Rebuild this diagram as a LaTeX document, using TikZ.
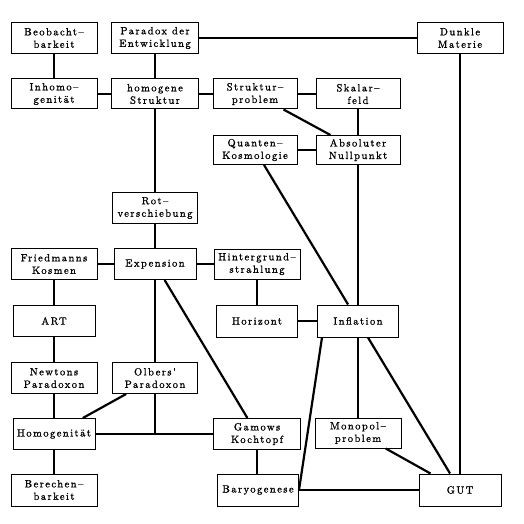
\documentclass[tikz,border=0pt]{standalone}
\usepackage{fontspec}
\newfontfamily\boxfont{Latin Modern Roman}[LetterSpace=14, FakeBold=1.2]
\begin{document}
\begin{tikzpicture}[x=1pt,y=-1pt,
  box/.style={draw, line width=1pt, inner sep=0pt, align=center,
    font=\boxfont\fontsize{10.5}{12.5}\selectfont},
  link/.style={line width=2.2pt}]
\useasboundingbox (0,0) rectangle (524,524);
\newcommand\bx[6]{\node[box, minimum width=#4, minimum height=#5] (#1) at (#2,#3) {#6};}
\bx{beo}{54}{38}{86}{31}{Beobacht–\\barkeit}
\bx{par}{155}{38}{87}{31}{Paradox der\\Entwicklung}
\bx{dun}{460}{38}{86}{31}{Dunkle\\Materie}
\bx{inh}{54}{94}{86}{30}{Inhomo–\\genität}
\bx{hom}{155}{94}{87}{30}{homogene\\Struktur}
\bx{str}{255}{94}{84}{30}{Struktur–\\problem}
\bx{ska}{358}{94}{84}{30}{Skalar–\\feld}
\bx{qua}{255}{150}{84}{29}{Quanten–\\Kosmologie}
\bx{abs}{358}{150}{84}{29}{Absoluter\\Nullpunkt}
\bx{rot}{155}{208}{85}{31}{Rot–\\verschiebung}
\bx{fri}{54}{264}{86}{31}{Friedmanns\\Kosmen}
\bx{exp}{155}{264}{82}{31}{Expension}
\bx{hin}{257}{264}{86}{30}{Hintergrund–\\strahlung}
\bx{art}{54}{321}{82}{31}{ART}
\bx{hor}{257}{321}{81}{32}{Horizont}
\bx{inf}{358}{321}{81}{32}{Inflation}
\bx{new}{54}{378}{86}{31}{Newtons\\Paradoxon}
\bx{olb}{155}{378}{85}{31}{Olbers'\\Paradoxon}
\bx{homg}{54}{434}{82}{31}{Homogenität}
\bx{gam}{257}{434}{87}{31}{Gamows\\Kochtopf}
\bx{mon}{358}{433}{86}{30}{Monopol–\\problem}
\bx{ber}{54}{490}{86}{32}{Berechen–\\barkeit}
\bx{bar}{258}{490}{81}{32}{Baryogenese}
\bx{gut}{460}{490}{82}{32}{GUT}

\draw[link] (beo) -- (inh);
\draw[link] (par) -- (hom);
\draw[link] (par) -- (dun);
\draw[link] (inh) -- (hom);
\draw[link] (hom) -- (str);
\draw[link] (str) -- (ska);
\draw[link] (str) -- (abs);
\draw[link] (ska) -- (abs);
\draw[link] (qua) -- (abs);
\draw[link] (qua) -- (inf);
\draw[link] (abs) -- (inf);
\draw[link] (hom) -- (rot);
\draw[link] (rot) -- (exp);
\draw[link] (fri) -- (exp);
\draw[link] (exp) -- (hin);
\draw[link] (exp) -- (gam);
\draw[link] (exp) -- (olb);
\draw[link] (fri) -- (art);
\draw[link] (art) -- (new);
\draw[link] (new) -- (homg);
\draw[link] (olb) -- (homg);
\draw[link] (homg) -- (gam);
\draw[link] (olb) -- (olb.south |- homg.east);
\draw[link] (homg) -- (ber);
\draw[link] (hin) -- (hor);
\draw[link] (hor) -- (inf);
\draw[link] (gam) -- (bar.north -| gam.south);
\draw[link] ([xshift=5pt]inf.south west) -- (bar.east);
\draw[link] (inf) -- (mon);
\draw[link] (inf) -- (gut);
\draw[link] (mon) -- (gut);
\draw[link] (bar) -- (gut);
\draw[link] (dun) -- (gut);
\end{tikzpicture}
\end{document}
